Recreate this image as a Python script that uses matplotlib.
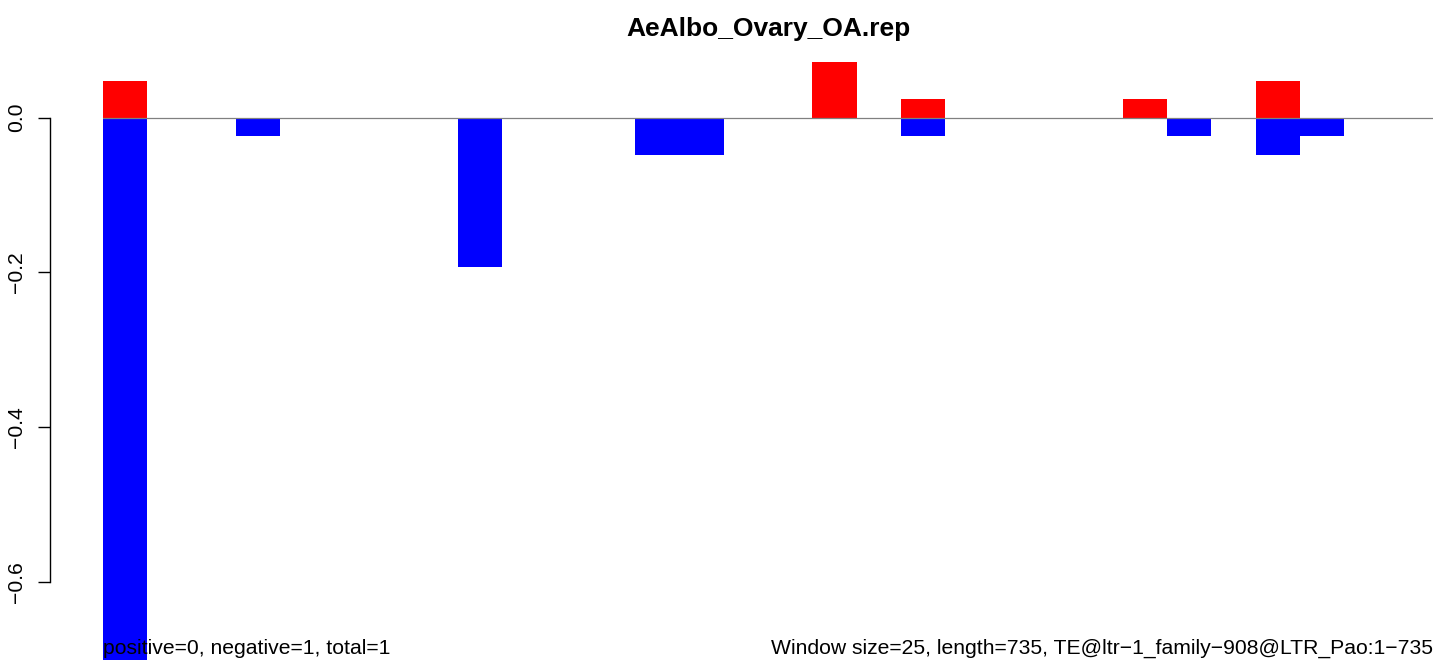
import numpy as np
import matplotlib
matplotlib.use('Agg')
import matplotlib.pyplot as plt

plt.rcParams['font.family'] = ['Liberation Sans', 'DejaVu Sans']

title = 'AeAlbo_Ovary_OA.rep'
left_note = 'positive=0, negative=1, total=1'
right_note = 'Window size=25, length=735, TE@ltr\u22121_family\u2212908@LTR_Pao:1\u2212735'

n_windows = 30
# window index -> value
pos_idx = [0, 16, 18, 23, 26]
pos_val = [0.048, 0.072, 0.024, 0.024, 0.048]
neg_idx = [0, 3, 8, 12, 13, 18, 24, 26, 27]
neg_val = [-0.701, -0.024, -0.193, -0.048, -0.048, -0.024, -0.024, -0.048, -0.024]

y_ticks = [0.0, -0.2, -0.4, -0.6]
y_labels = ['0.0', '\u22120.2', '\u22120.4', '\u22120.6']

W, H = 1439, 664
PX = 72 / 100  # points per pixel
fig = plt.figure(figsize=(W / 100, H / 100), dpi=100)
ax = fig.add_axes([103 / W, 4 / H, (1433 - 103) / W, (660 - 62) / H])

ax.bar(pos_idx, pos_val, width=1, align='edge', color='red', linewidth=0)
ax.bar(neg_idx, neg_val, width=1, align='edge', color='blue', linewidth=0)
ax.axhline(0, color='#808080', linewidth=0.9, zorder=3)

ax.set_xlim(0, n_windows)
ax.set_ylim(min(neg_val), max(pos_val))

for s in ['top', 'right', 'bottom']:
    ax.spines[s].set_visible(False)
ax.spines['left'].set_position(('outward', 53 * PX))
ax.spines['left'].set_bounds(-0.6, 0.0)
ax.spines['left'].set_linewidth(1.0)
ax.set_xticks([])
ax.set_yticks(y_ticks)
ax.set_yticklabels(y_labels, rotation=90, va='center', fontsize=15.2)
ax.tick_params(axis='y', length=12 * PX, width=1.0, pad=12 * PX)

ax.set_title(title, fontsize=19, fontweight='bold', pad=26 * PX)

ax.text(0, 0.004, left_note, transform=ax.transAxes, ha='left', va='bottom',
        fontsize=15.2, zorder=5)
ax.text(1, 0.004, right_note, transform=ax.transAxes, ha='right', va='bottom',
        fontsize=15.2, zorder=5)

fig.savefig('out.png', dpi=100)
